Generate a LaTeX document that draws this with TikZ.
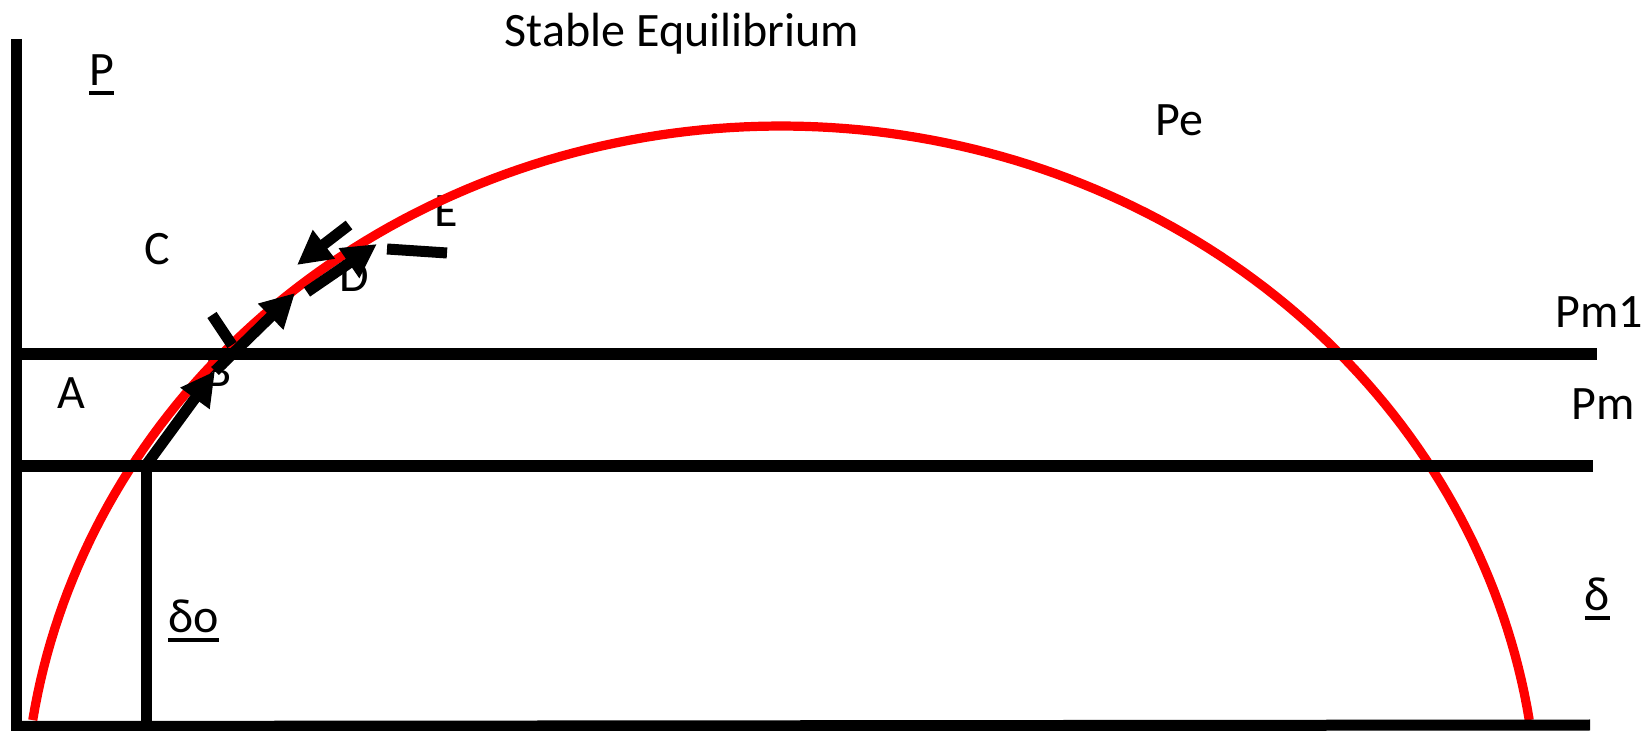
\documentclass[tikz,border=0pt]{standalone}
\usepackage{fontspec}
\setmainfont{Carlito}
\usetikzlibrary{arrows.meta}
\newcommand\ulbox[1]{\setbox0\hbox{#1}\copy0\llap{\rule[-4.5pt]{\wd0}{2pt}}}
\begin{document}
\begin{tikzpicture}[x=0.5pt,y=-0.5pt,
  lbl/.style={font=\fontsize{24}{28}\selectfont, inner sep=0pt, anchor=base},
  axisline/.style={line width=5.5pt},
  level/.style={line width=6pt},
  curve/.style={red, line width=4.6pt},
  arr/.style={line width=5.5pt, -{Triangle[length=17pt,width=17pt]}},
  bar/.style={line width=5.5pt}]
\useasboundingbox (0,0) rectangle (1650,731);
% labels
\node[lbl] (title) at (682,47) {Stable Equilibrium};
\node[lbl] (P) at (101.5,86) {\ulbox{P}};
\node[lbl] (Pe) at (1179,136) {Pe};
\node[lbl] (E) at (446,227) {E};
\node[lbl] (C) at (157,265) {C};
\node[lbl] (D) at (354.5,292) {D};
\node[lbl] (B) at (219,387) {B};
\node[lbl] (A) at (71,409) {A};
\node[lbl] (Pm1) at (1599,328) {Pm1};
\node[lbl] (Pm) at (1603,420) {Pm};
\node[lbl] (delta) at (1597.5,611) {\ulbox{δ}};
\node[lbl] (delta0) at (193.5,633) {\ulbox{δo}};
% power angle curve
\draw[curve] plot[domain=-171.3:-8.7, samples=150] ({781+757*cos(\x)},{826+700*sin(\x)});
% axes
\coordinate (ytop) at (16.5,39);
\coordinate (ybot) at (16.5,731);
\coordinate (xl) at (12,726.5);
\coordinate (xr) at (1590,725);
\draw[axisline] (ytop) -- (ybot);
\draw[axisline] (xl) -- (xr);
% levels
\coordinate (pm1l) at (21,354.5);
\coordinate (pm1r) at (1597,354.5);
\coordinate (pml) at (21,466.5);
\coordinate (pmr) at (1593,466.5);
\draw[level] (pm1l) -- (pm1r);
\draw[level] (pml) -- (pmr);
\coordinate (d0top) at (146,466.5);
\coordinate (d0bot) at (146,726);
\draw[axisline] (d0top) -- (d0bot);
% swing arrows
\coordinate (a0) at (144,468);
\coordinate (a1) at (215,371);
\coordinate (a2) at (295,293);
\coordinate (a3s) at (307,292);
\coordinate (a3) at (377,244);
\coordinate (a4s) at (349,225);
\coordinate (a4) at (297,265);
\draw[arr] (a0) -- (a1);
\draw[arr] (a1) -- (a2);
\draw[arr] (a3s) -- (a3);
\draw[arr] (a4s) -- (a4);
% ticks
\coordinate (t1a) at (212,315);
\coordinate (t1b) at (232,345);
\coordinate (t2a) at (387,249);
\coordinate (t2b) at (447,253);
\draw[bar] (t1a) -- (t1b);
\draw[bar] (t2a) -- (t2b);
\end{tikzpicture}
\end{document}
